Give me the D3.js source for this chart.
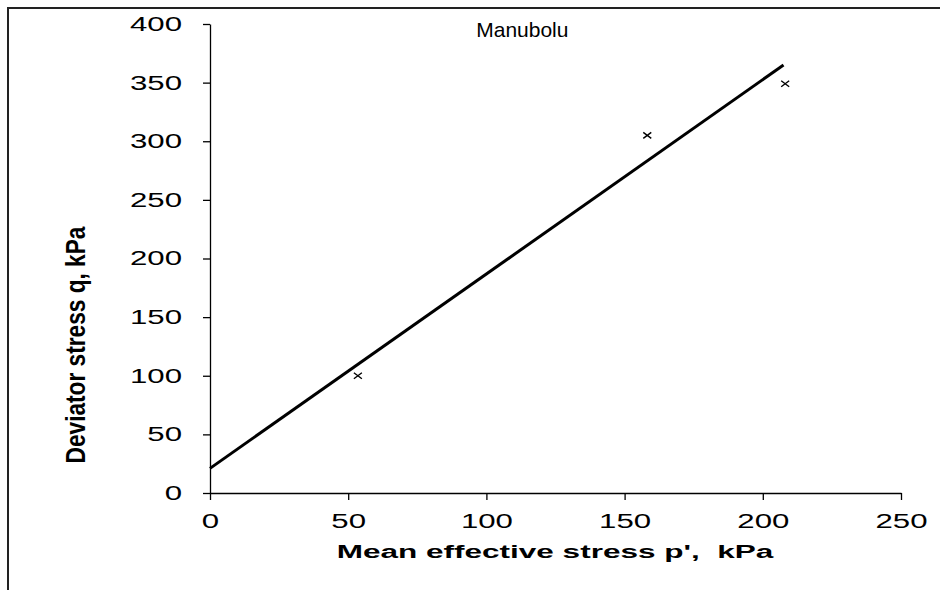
<!DOCTYPE html>
<html>
<head>
<meta charset="utf-8">
<style>
  body { margin: 0; background: white; }
  svg { font-family: 'Liberation Sans', Arial, sans-serif; }
  .axis path, .axis line { stroke: #000; stroke-width: 1.3px; }
  .axis text { fill: #000; font-size: 20px; }
</style>
</head>
<body>
<div id="my_dataviz"></div>
<script src="https://d3js.org/d3.v7.min.js"></script>
<script>

// measured points (p', q)
var pValues = [53.5, 158.2, 208.1];
var qValues = [100, 305, 349];

// fitted line end points
var lineP = [0, 207.5];
var lineQ = [21, 365];

var xTicks = [0, 50, 100, 150, 200, 250];
var yTicks = [0, 50, 100, 150, 200, 250, 300, 350, 400];

var chartTitle = "Manubolu";
var xLabel = "Mean effective stress p',\u00a0\u00a0kPa";
var yLabel = "Deviator stress q, kPa";

var margin = {top: 24, right: 39, bottom: 97, left: 210},
    width = 940 - margin.left - margin.right,
    height = 590 - margin.top - margin.bottom;

// the original chart's text is stretched sideways
var tickStretch = 1.56;

var svg = d3.select("#my_dataviz")
  .append("svg")
    .attr("width", 940)
    .attr("height", 590);

// outer frame (top and left edges visible)
svg.append("path")
  .attr("d", "M8,590 V8 H940")
  .attr("fill", "none")
  .attr("stroke", "#222")
  .attr("stroke-width", 2);

var g = svg.append("g")
  .attr("transform", "translate(" + margin.left + "," + margin.top + ")");

var x = d3.scaleLinear().domain([0, 250]).range([0, width]);
var y = d3.scaleLinear().domain([0, 400]).range([height, 0]);

g.append("g")
  .attr("class", "axis")
  .attr("transform", "translate(0," + height + ")")
  .call(d3.axisBottom(x).tickValues(xTicks).tickSize(7).tickSizeOuter(0).tickPadding(14))
  .selectAll("text")
    .attr("transform", "scale(" + tickStretch + ",1)");

g.append("g")
  .attr("class", "axis")
  .call(d3.axisLeft(y).tickValues(yTicks).tickSize(7).tickSizeOuter(0).tickPadding(21))
  .selectAll("text")
    .attr("x", -28 / tickStretch)
    .attr("transform", "scale(" + tickStretch + ",1)");

// fitted line
var lineData = lineP.map(function(p, i) { return {p: p, q: lineQ[i]}; });
g.append("path")
  .datum(lineData)
  .attr("fill", "none")
  .attr("stroke", "#000")
  .attr("stroke-width", 3)
  .attr("d", d3.line()
    .x(function(d) { return x(d.p); })
    .y(function(d) { return y(d.q); }));

// x markers
var pts = pValues.map(function(p, i) { return {p: p, q: qValues[i]}; });
g.selectAll(".marker")
  .data(pts)
  .enter()
  .append("path")
    .attr("class", "marker")
    .attr("transform", function(d) { return "translate(" + x(d.p) + "," + y(d.q) + ")"; })
    .attr("d", "M-4,-3L4,3M-4,3L4,-3")
    .attr("stroke", "#000")
    .attr("stroke-width", 1.4)
    .attr("fill", "none");

// title
g.append("text")
  .attr("transform", "translate(" + x(113) + ",13) scale(1.05,1)")
  .attr("text-anchor", "middle")
  .style("font-size", "20px")
  .text(chartTitle);

// axis labels
svg.append("text")
  .attr("transform", "translate(555,558) scale(1.66,1)")
  .attr("text-anchor", "middle")
  .style("font-size", "19px")
  .style("font-weight", "bold")
  .text(xLabel);

svg.append("text")
  .attr("transform", "translate(85,345) rotate(-90) scale(0.81,1)")
  .attr("text-anchor", "middle")
  .style("font-size", "28px")
  .style("font-weight", "bold")
  .text(yLabel);

</script>
</body>
</html>
